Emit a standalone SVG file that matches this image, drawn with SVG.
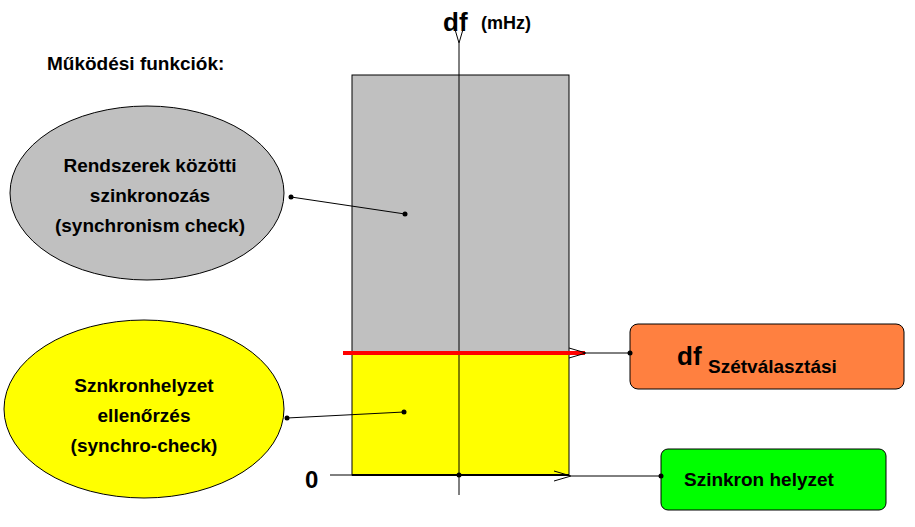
<svg xmlns="http://www.w3.org/2000/svg" width="915" height="527" viewBox="0 0 915 527">
<style>
text{font-family:"Liberation Sans",Arial,sans-serif;font-weight:bold;fill:#000}
.l{stroke:#000;stroke-width:1;fill:none}
.d{fill:#000}
</style>
<defs>
<marker id="oa" markerWidth="20" markerHeight="12" refX="1" refY="6" orient="auto" markerUnits="userSpaceOnUse">
<path d="M18,1 L1,6 L18,11" fill="none" stroke="#000" stroke-width="1"/>
</marker>
</defs>
<rect width="915" height="527" fill="#fff"/>
<text x="47" y="70" font-size="19">Működési funkciók:</text>
<g id="chart">
<rect x="352" y="75" width="217" height="278" fill="#c0c0c0" stroke="#000"/>
<rect x="352" y="353" width="217" height="122" fill="#ffff00" stroke="#000"/>
<text x="443" y="31" font-size="26">df</text>
<text x="481" y="29" font-size="18">(mHz)</text>
<text x="305" y="488" font-size="24">0</text>
</g>
<g id="gray-ellipse">
<ellipse cx="147" cy="193" rx="137" ry="87" fill="#c0c0c0" stroke="#000"/>
<text font-size="19" text-anchor="middle"><tspan x="150" y="172">Rendszerek közötti</tspan><tspan x="150" y="202">szinkronozás</tspan><tspan x="150" y="232">(synchronism check)</tspan></text>
</g>
<g id="yellow-ellipse">
<ellipse cx="144" cy="409" rx="140" ry="89" fill="#ffff00" stroke="#000"/>
<text font-size="19" text-anchor="middle"><tspan x="144" y="392">Sznkronhelyzet</tspan><tspan x="144" y="422">ellenőrzés</tspan><tspan x="144" y="452">(synchro-check)</tspan></text>
</g>
<g id="orange-box">
<rect x="630" y="324" width="274" height="65" rx="8" fill="#ff8040" stroke="#000"/>
<text x="677" y="365" font-size="26">df</text>
<text x="708" y="373" font-size="19">Szétválasztási</text>
</g>
<g id="green-box">
<rect x="661" y="449" width="225" height="61" rx="7" fill="#00ff00" stroke="#000"/>
<text x="684" y="486" font-size="19">Szinkron helyzet</text>
</g>
<g id="connectors">
<line class="l" x1="459" y1="495" x2="459" y2="43" marker-end="url(#oa)"/>
<line class="l" x1="330" y1="475" x2="352" y2="475"/>
<line x1="352" y1="475" x2="569" y2="475" stroke="#000" stroke-width="2"/>
<line x1="343" y1="353" x2="585" y2="353" stroke="#ff0000" stroke-width="4"/>
<line class="l" x1="630" y1="353" x2="586" y2="353" marker-end="url(#oa)"/>
<line class="l" x1="661" y1="476" x2="571" y2="476" marker-end="url(#oa)"/>
<line class="l" x1="291" y1="197" x2="405" y2="214"/>
<line class="l" x1="287" y1="418" x2="404" y2="412"/>
<circle class="d" cx="291" cy="197" r="2.5"/><circle class="d" cx="405" cy="214" r="2.5"/>
<circle class="d" cx="287" cy="418" r="2.5"/><circle class="d" cx="404" cy="412" r="2.5"/>
<circle class="d" cx="630" cy="353" r="2.5"/><circle class="d" cx="661" cy="476" r="2.5"/>
<circle class="d" cx="459" cy="475" r="2.5"/>
</g>
</svg>
